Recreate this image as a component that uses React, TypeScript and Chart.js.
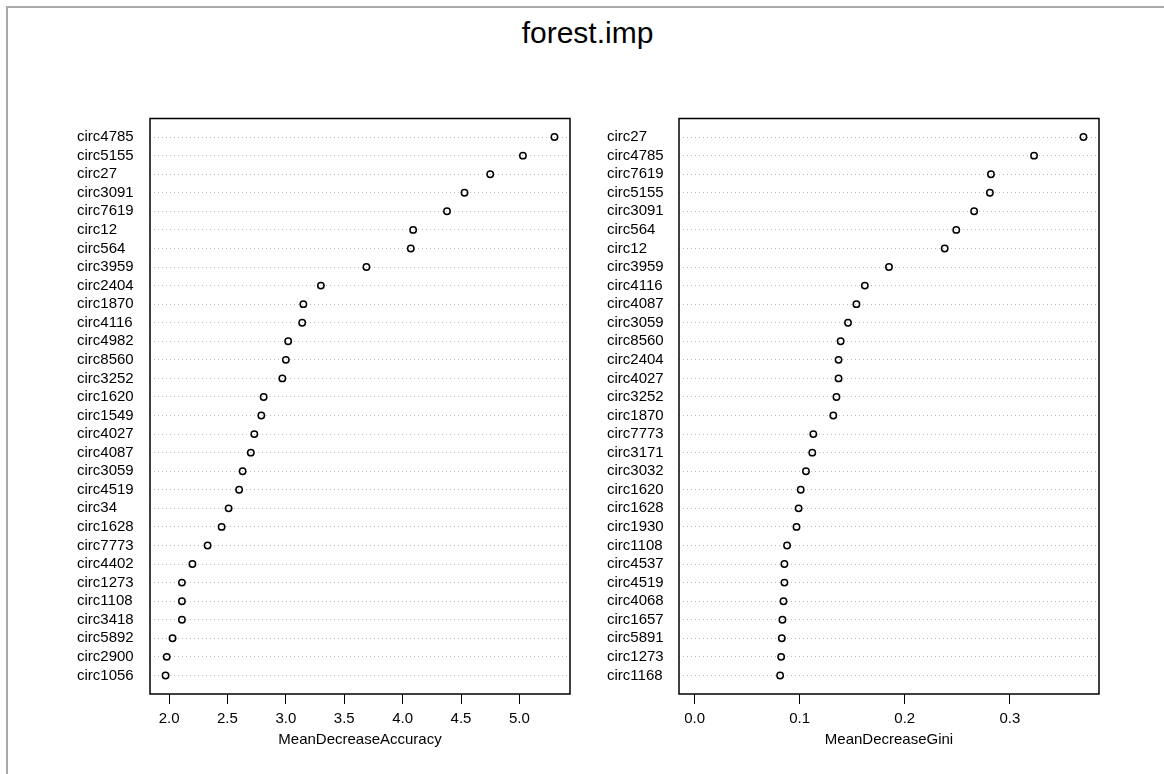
import React, { useEffect, useRef } from "react";
import { Chart, registerables } from "chart.js";

Chart.register(...registerables);

const TITLE = "forest.imp";

const accLabels = [
  "circ4785", "circ5155", "circ27", "circ3091", "circ7619", "circ12", "circ564", "circ3959",
  "circ2404", "circ1870", "circ4116", "circ4982", "circ8560", "circ3252", "circ1620", "circ1549",
  "circ4027", "circ4087", "circ3059", "circ4519", "circ34", "circ1628", "circ7773", "circ4402",
  "circ1273", "circ1108", "circ3418", "circ5892", "circ2900", "circ1056",
];
const accValues = [
  5.30, 5.03, 4.75, 4.53, 4.38, 4.09, 4.07, 3.69,
  3.30, 3.15, 3.14, 3.02, 3.00, 2.97, 2.81, 2.79,
  2.73, 2.70, 2.63, 2.60, 2.51, 2.45, 2.33, 2.20,
  2.11, 2.11, 2.11, 2.03, 1.98, 1.97,
];
const accTicks = [2.0, 2.5, 3.0, 3.5, 4.0, 4.5, 5.0];
const accTitle = "MeanDecreaseAccuracy";

const giniLabels = [
  "circ27", "circ4785", "circ7619", "circ5155", "circ3091", "circ564", "circ12", "circ3959",
  "circ4116", "circ4087", "circ3059", "circ8560", "circ2404", "circ4027", "circ3252", "circ1870",
  "circ7773", "circ3171", "circ3032", "circ1620", "circ1628", "circ1930", "circ1108", "circ4537",
  "circ4519", "circ4068", "circ1657", "circ5891", "circ1273", "circ1168",
];
const giniValues = [
  0.370, 0.323, 0.282, 0.281, 0.266, 0.249, 0.238, 0.185,
  0.162, 0.154, 0.146, 0.139, 0.137, 0.137, 0.135, 0.132,
  0.113, 0.112, 0.106, 0.101, 0.099, 0.097, 0.088, 0.0855,
  0.0855, 0.0846, 0.0836, 0.083, 0.0824, 0.0814,
];
const giniTicks = [0.0, 0.1, 0.2, 0.3];
const giniTitle = "MeanDecreaseGini";

const FONT = '"Liberation Sans", Arial, Helvetica, sans-serif';

const boxPlugin = {
  id: "rbox",
  afterDraw(chart: any) {
    const { ctx, chartArea: a } = chart;
    ctx.save();
    ctx.strokeStyle = "#000";
    ctx.lineWidth = 1.5;
    ctx.strokeRect(a.left, a.top, a.right - a.left, a.bottom - a.top);
    ctx.restore();
  },
};

type PanelProps = {
  labels: string[];
  values: number[];
  ticks: number[];
  xTitle: string;
  zeroMin: boolean;
  left: number;
  width: number;
  yAxisWidth: number;
  padRight: number;
};

function Panel(p: PanelProps) {
  const ref = useRef<HTMLCanvasElement | null>(null);
  useEffect(() => {
    if (!ref.current) return;
    const n = p.labels.length;
    const hi = Math.max(...p.values);
    const lo = p.zeroMin ? 0 : Math.min(...p.values);
    const ext = 0.04 * (hi - lo);
    const chart = new Chart(ref.current, {
      type: "scatter",
      data: {
        datasets: [
          {
            data: p.values.map((v, i) => ({ x: v, y: n - i })),
            pointRadius: 3.2,
            pointHoverRadius: 3.2,
            pointBorderWidth: 1.5,
            pointBorderColor: "#000",
            pointBackgroundColor: "rgba(0,0,0,0)",
            showLine: false,
          },
        ],
      },
      options: {
        animation: false,
        responsive: false,
        events: [],
        layout: { padding: { top: 18.5, bottom: 11, left: 0, right: p.padRight } },
        plugins: { legend: { display: false }, tooltip: { enabled: false }, title: { display: false } },
        scales: {
          x: {
            type: "linear",
            position: "bottom",
            min: lo - ext,
            max: hi + ext,
            afterBuildTicks: (s: any) => {
              s.ticks = p.ticks.map((v) => ({ value: v }));
            },
            afterFit: (s: any) => {
              s.height = 55;
            },
            grid: {
              display: true,
              drawOnChartArea: false,
              drawTicks: true,
              tickLength: 10,
              tickColor: "#000",
              tickWidth: 1,
            },
            border: { display: false },
            ticks: {
              autoSkip: false,
              maxRotation: 0,
              padding: 6,
              color: "#000",
              font: { family: FONT, size: 15 },
              callback: (v: any) => Number(v).toFixed(1),
            },
            title: {
              display: true,
              text: p.xTitle,
              color: "#000",
              font: { family: FONT, size: 15 },
              padding: 0,
            },
          },
          y: {
            type: "linear",
            min: 0,
            max: n + 1,
            afterBuildTicks: (s: any) => {
              s.ticks = p.labels.map((_, i) => ({ value: n - i }));
            },
            afterFit: (s: any) => {
              s.width = p.yAxisWidth;
            },
            grid: {
              display: true,
              drawTicks: false,
              color: "#bdbdbd",
              lineWidth: 1,
            },
            border: { display: false, dash: [1, 3] },
            ticks: {
              autoSkip: false,
              crossAlign: "far",
              padding: 0,
              color: "#000",
              font: { family: FONT, size: 15 },
              callback: (v: any) => p.labels[n - Number(v)] ?? "",
            },
          },
        },
      },
      plugins: [boxPlugin],
    } as any);
    return () => chart.destroy();
  }, []);
  return (
    <canvas
      ref={ref}
      width={p.width}
      height={660}
      style={{ position: "absolute", left: p.left, top: 100, width: p.width, height: 660 }}
    />
  );
}

export default function App() {
  return (
    <div
      style={{
        position: "absolute",
        left: 0,
        top: 0,
        width: 1164,
        height: 774,
        overflow: "hidden",
        background: "#fff",
        fontFamily: FONT,
      }}
    >
      <div
        style={{
          position: "absolute",
          left: 6,
          top: 6,
          width: 1156,
          height: 766,
          borderLeft: "2px solid #a9a9a9",
          borderTop: "2px solid #a9a9a9",
        }}
      />
      <div
        style={{
          position: "absolute",
          left: 0,
          top: 17.9,
          width: 1175,
          textAlign: "center",
          fontSize: 30,
          lineHeight: "30px",
          color: "#000",
        }}
      >
        {TITLE}
      </div>
      <Panel
        labels={accLabels}
        values={accValues}
        ticks={accTicks}
        xTitle={accTitle}
        zeroMin={false}
        left={77}
        width={513}
        yAxisWidth={73}
        padRight={20}
      />
      <Panel
        labels={giniLabels}
        values={giniValues}
        ticks={giniTicks}
        xTitle={giniTitle}
        zeroMin={true}
        left={607}
        width={500}
        yAxisWidth={72}
        padRight={8}
      />
    </div>
  );
}
